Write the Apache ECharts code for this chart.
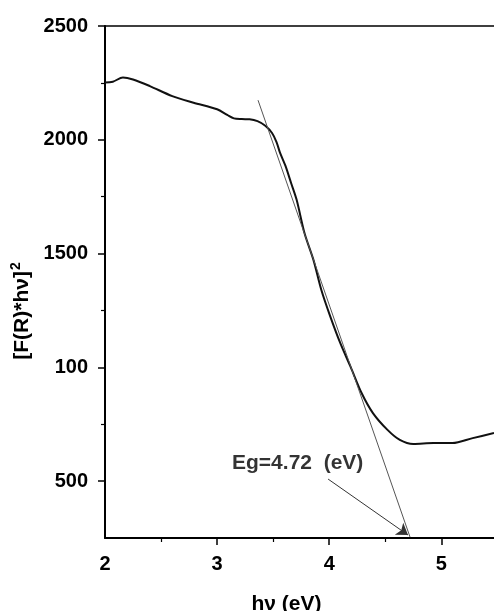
<!DOCTYPE html>
<html>
<head>
<meta charset="utf-8">
<script src="https://cdn.jsdelivr.net/npm/echarts@6/dist/echarts.min.js"></script>
<style>
html, body { margin: 0; padding: 0; background: #fff; }
#main { width: 494px; height: 611px; }
</style>
</head>
<body>
<div id="main"></div>
<script>
// curve
var hvValues = [2.00, 2.07, 2.16, 2.25, 2.40, 2.60, 2.79, 3.00, 3.09, 3.15, 3.22, 3.29, 3.36, 3.43, 3.49, 3.53, 3.56, 3.61, 3.66, 3.71, 3.78, 3.86, 3.93, 4.01, 4.10, 4.19, 4.29, 4.39, 4.52, 4.63, 4.75, 4.93, 5.10, 5.28, 5.47];
var fValues = [2252, 2255, 2274, 2265, 2236, 2192, 2163, 2134, 2109, 2094, 2091, 2090, 2082, 2062, 2030, 1990, 1945, 1885, 1810, 1735, 1589, 1471, 1340, 1223, 1105, 1003, 886, 799, 725, 681, 663, 667, 667, 689, 711];

// tangent line and arrow
var tangentLine = [[3.365, 2174], [4.721, 254]];
var arrowLine = [[3.99, 509], [4.703, 263]];
var egLabelPos = [3.133, 578];
var egText = 'Eg=4.72  (eV)';

// axes
var xLabelValues = [2, 3, 4, 5];
var xTickValues = [3, 4, 5];
var xMinorValues = [2.5, 3.5, 4.5];
var yTickValues = [500, 1000, 1500, 2000, 2500];
var yTickLabels = ['500', '100', '1500', '2000', '2500'];
var yMinorValues = [750, 1250, 1750, 2250];

var font = "'Liberation Sans', Arial, sans-serif";
var black = '#000';

var curveData = [];
for (var i = 0; i < hvValues.length; i++) {
    curveData.push([hvValues[i], fValues[i]]);
}

var chart = echarts.init(document.getElementById('main'));

chart.setOption({
    animation: false,
    grid: { left: 105, right: 0, top: 26, bottom: 73, containLabel: false, outerBoundsMode: 'none' },
    xAxis: [{
        type: 'value', min: 2, max: 5.47, position: 'bottom',
        name: 'hν (eV)', nameLocation: 'middle', nameGap: 56,
        nameTextStyle: { fontFamily: font, fontSize: 21, fontWeight: 'bold', color: black, padding: [0, 26, 0, 0] },
        axisLine: { show: true, lineStyle: { color: black, width: 2 } },
        axisTick: { show: true, inside: false, length: 7, customValues: xTickValues, lineStyle: { color: black, width: 1.5 } },
        axisLabel: { customValues: xLabelValues, margin: 16, fontFamily: font, fontSize: 20, fontWeight: 'bold', color: black },
        splitLine: { show: false }
    }, {
        // minor ticks
        type: 'value', min: 2, max: 5.47, position: 'bottom',
        axisLine: { show: false },
        axisTick: { show: true, length: 4, customValues: xMinorValues, lineStyle: { color: black, width: 1.2 } },
        axisLabel: { show: false },
        splitLine: { show: false }
    }, {
        // top frame line
        type: 'value', min: 2, max: 5.47, position: 'top',
        axisLine: { show: true, lineStyle: { color: black, width: 1.5 } },
        axisTick: { show: false },
        axisLabel: { show: false },
        splitLine: { show: false }
    }],
    yAxis: [{
        type: 'value', min: 250, max: 2500, position: 'left',
        name: '[F(R)*hν]{sup|2}', nameLocation: 'middle', nameGap: 58, nameRotate: 90,
        nameTextStyle: {
            fontFamily: font, fontSize: 21, fontWeight: 'bold', color: black, padding: [0, 58, 0, 0],
            rich: {
                sup: { fontFamily: font, fontSize: 14, fontWeight: 'bold', color: black, verticalAlign: 'top', padding: [0, 0, 12, 1] }
            }
        },
        axisLine: { show: true, lineStyle: { color: black, width: 2 } },
        axisTick: { show: true, length: 7, customValues: yTickValues, lineStyle: { color: black, width: 1.5 } },
        axisLabel: {
            customValues: yTickValues, margin: 17,
            fontFamily: font, fontSize: 20, fontWeight: 'bold', color: black,
            formatter: function (v) {
                var idx = yTickValues.indexOf(v);
                return idx >= 0 ? yTickLabels[idx] : '';
            }
        },
        splitLine: { show: false }
    }, {
        type: 'value', min: 250, max: 2500, position: 'left',
        axisLine: { show: false },
        axisTick: { show: true, length: 4, customValues: yMinorValues, lineStyle: { color: black, width: 1.2 } },
        axisLabel: { show: false },
        splitLine: { show: false }
    }],
    series: [{
        type: 'line', name: 'curve',
        data: curveData, showSymbol: false, smooth: 0.3,
        lineStyle: { color: '#111', width: 2 },
        silent: true
    }, {
        type: 'line', name: 'tangent',
        data: tangentLine, showSymbol: false,
        lineStyle: { color: '#555', width: 1 },
        silent: true
    }, {
        type: 'lines', coordinateSystem: 'cartesian2d',
        data: [{ coords: arrowLine }],
        symbol: ['none', 'arrow'], symbolSize: [0, 11],
        lineStyle: { color: '#333', width: 1, opacity: 1 },
        silent: true
    }, {
        type: 'scatter',
        data: [egLabelPos], symbolSize: 0,
        label: {
            show: true, position: 'right', distance: 0,
            formatter: egText,
            fontFamily: font, fontSize: 21, fontWeight: 'bold', color: black
        },
        silent: true
    }]
});
</script>
</body>
</html>
